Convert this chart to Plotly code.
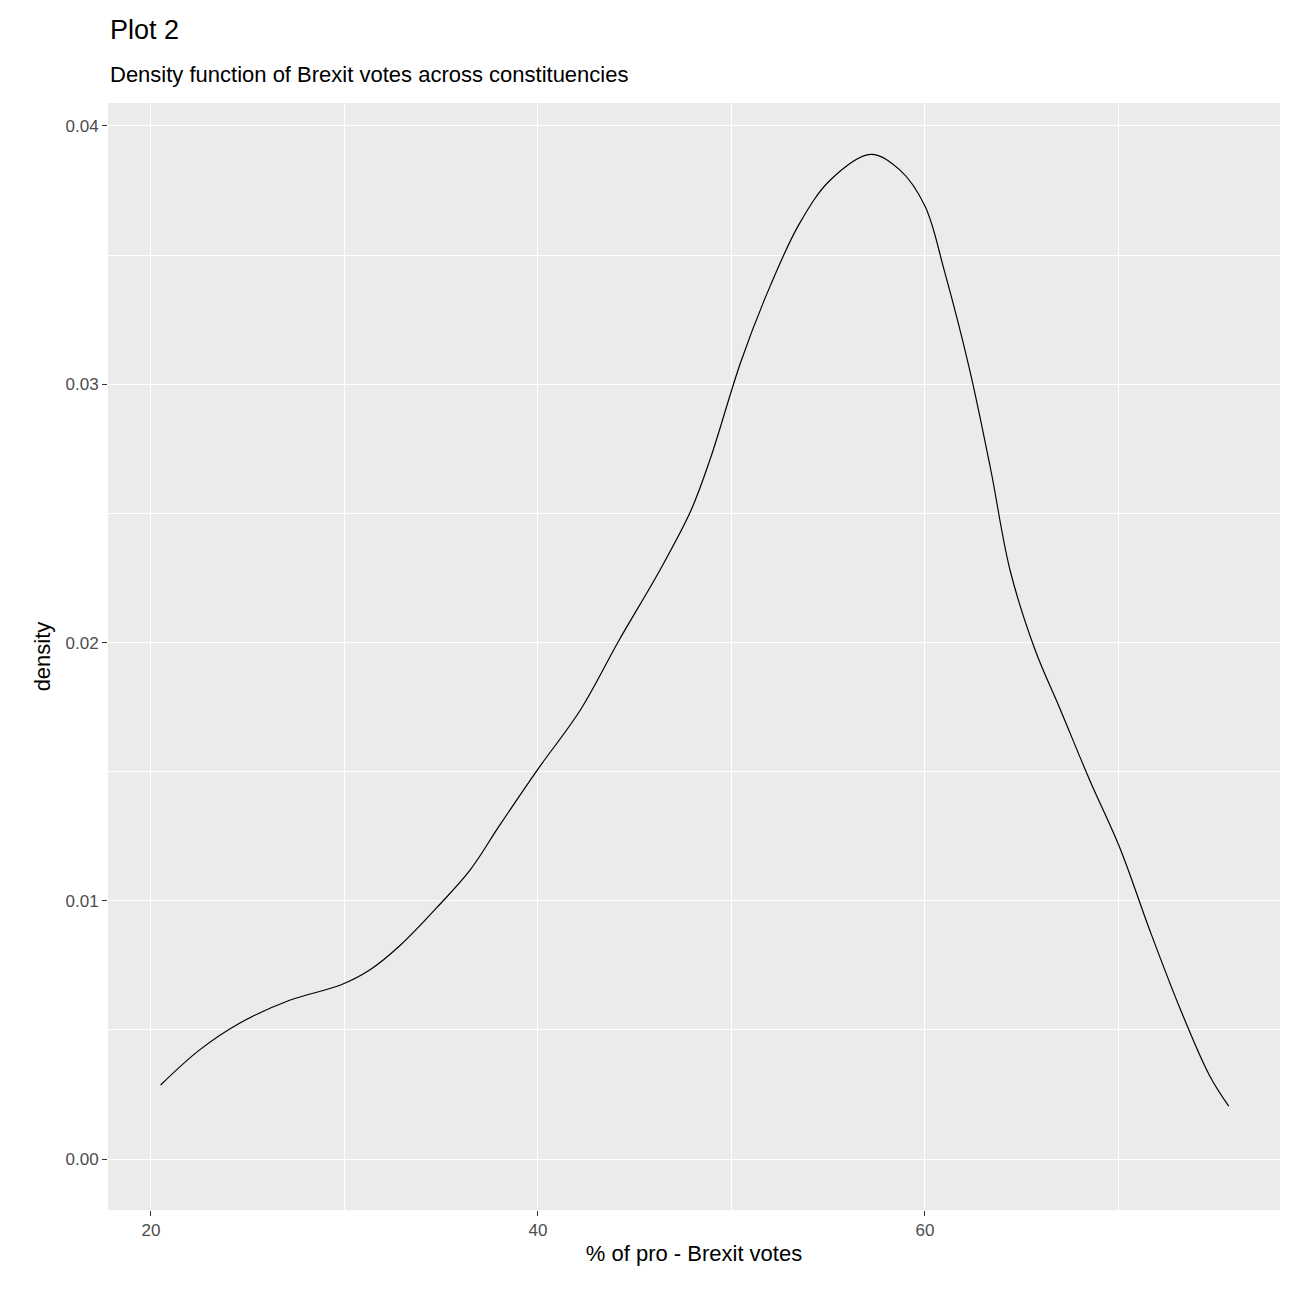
import plotly.graph_objects as go

votes = [20.5, 22.5, 24.6, 27.2, 29.8, 31.3, 32.9, 34.9, 36.5, 38.0, 40.0, 42.2, 44.2,
         46.3, 47.9, 48.9, 50.5, 52.0, 53.5, 55.1, 57.2, 58.7, 60.0, 61.0, 62.3, 63.4,
         64.4, 65.7, 67.0, 68.5, 70.1, 71.6, 73.2, 74.7, 75.7]
density = [0.00287, 0.00422, 0.00527, 0.00616, 0.00674, 0.00732, 0.00829, 0.00984,
           0.0112, 0.0129, 0.0151, 0.0174, 0.0201, 0.0228, 0.0251, 0.0271, 0.0309,
           0.0338, 0.0362, 0.0379, 0.0389, 0.0383, 0.0369, 0.0344, 0.0306, 0.0267,
           0.0228, 0.0197, 0.0174, 0.0147, 0.0120, 0.0089, 0.0058, 0.00325, 0.00205]

fig = go.Figure(go.Scatter(x=votes, y=density, mode="lines",
                           line={"color": "black", "width": 1.2, "shape": "spline"},
                           showlegend=False))

axis_common = dict(showgrid=True, gridcolor="white", gridwidth=1.4, zeroline=False,
                   ticks="outside", ticklen=5, tickcolor="#333333",
                   tickfont={"size": 17, "color": "#4d4d4d"}, showline=False)

fig.update_layout(
    width=1296, height=1296,
    margin=dict(l=100, r=24, t=95, b=94),
    paper_bgcolor="white", plot_bgcolor="#ebebeb",
    font={"family": "Liberation Sans, Arial", "color": "black"},
    xaxis=dict(axis_common, range=[17.78, 78.35], tick0=20, dtick=20,
               minor=dict(dtick=10, tick0=10, showgrid=True, gridcolor="white", gridwidth=0.7, ticks=""),
               title={"text": "% of pro - Brexit votes", "font": {"size": 22}, "standoff": 6}),
    yaxis=dict(axis_common, range=[-0.00197, 0.04089], tick0=0, dtick=0.01, tickformat=".2f",
               minor=dict(dtick=0.005, tick0=0, showgrid=True, gridcolor="white", gridwidth=0.7, ticks=""),
               title={"text": "density", "font": {"size": 22}, "standoff": 8}),
)
fig.add_annotation(text="Plot 2", xref="paper", yref="paper", x=0, y=1 + 73 / 1107,
                   xanchor="left", yanchor="middle", showarrow=False, font={"size": 27})
fig.add_annotation(text="Density function of Brexit votes across constituencies",
                   xref="paper", yref="paper", x=0, y=1 + 28 / 1107,
                   xanchor="left", yanchor="middle", showarrow=False, font={"size": 22})

fig.write_html("out.html")
